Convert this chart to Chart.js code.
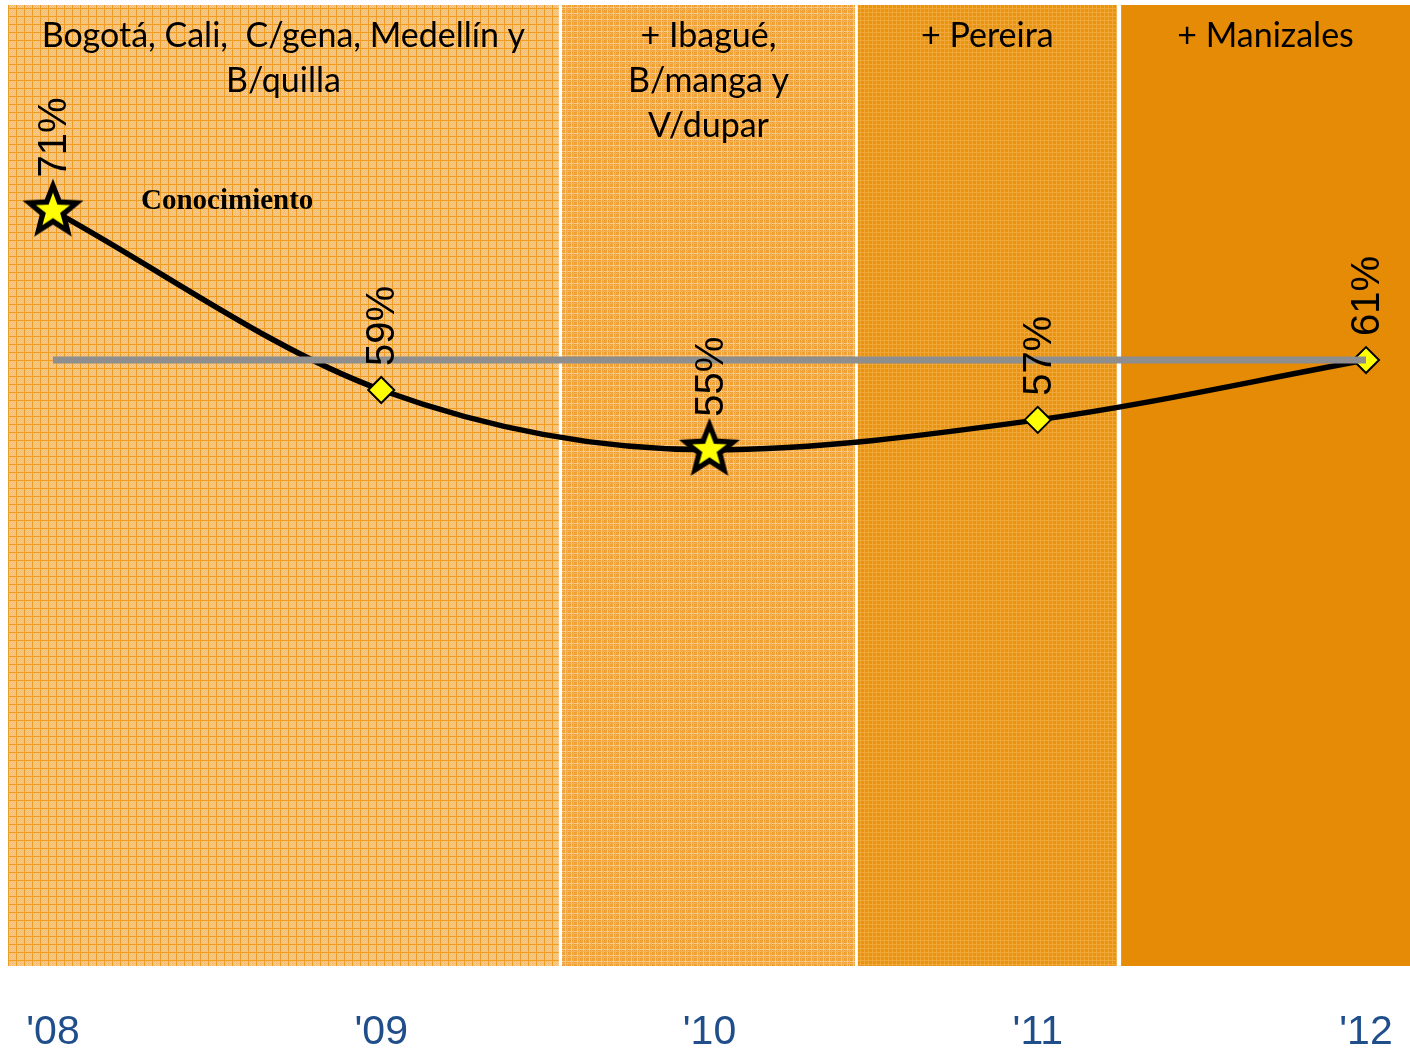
<!DOCTYPE html>
<html>
<head>
<meta charset="utf-8">
<script src="https://cdn.jsdelivr.net/npm/chart.js@4.4.1/dist/chart.umd.min.js"></script>
<style>
  html, body { margin: 0; padding: 0; background: #fff; }
</style>
</head>
<body>
<canvas id="grafico" width="1410" height="1048"></canvas>
<script>
// datos
const anios = ["'08", "'09", "'10", "'11", "'12"];
const conocimiento = [71, 59, 55, 57, 61];
const referencia = [61, 61, 61, 61, 61];
const marcadores = ['estrella', 'rombo', 'estrella', 'rombo', 'rombo'];
const titulosBandas = [
  ['Bogotá, Cali,  C/gena, Medellín y', 'B/quilla'],
  ['+ Ibagué,', 'B/manga y', 'V/dupar'],
  ['+ Pereira'],
  ['+ Manizales']
];
// inicio y fin de cada banda en unidades del eje x
const bandasInicio = [-0.137, 1.551, 2.452, 3.254];
const bandasFin = [1.541, 2.443, 3.241, 4.134];

// patrones de relleno de las bandas
const hacerPatron = (tam, dibujar) => {
  const c = document.createElement('canvas');
  c.width = tam; c.height = tam;
  dibujar(c.getContext('2d'), tam);
  return document.getElementById('grafico').getContext('2d').createPattern(c, 'repeat');
};

const patrones = [
  hacerPatron(8, (g, t) => {
    g.fillStyle = '#f5bb6a'; g.fillRect(0, 0, t, t);
    g.fillStyle = '#f8cd92';
    for (let y = 1; y < t; y++)
      for (let x = 1; x < t; x++)
        if ((x + y) % 2 === 0) g.fillRect(x, y, 1, 1);
    g.fillStyle = '#ee9c24';
    g.fillRect(0, 0, t, 1); g.fillRect(0, 0, 1, t);
  }),
  hacerPatron(6, (g, t) => {
    g.fillStyle = '#f0a133'; g.fillRect(0, 0, t, t);
    g.fillStyle = '#f8c98b';
    g.fillRect(0, 1, t, 1); g.fillRect(1, 0, 1, t);
    g.fillStyle = '#f4b15c';
    g.fillRect(0, 3, t, 1); g.fillRect(3, 0, 1, t);
  }),
  hacerPatron(4, (g, t) => {
    g.fillStyle = '#ea940e'; g.fillRect(0, 0, t, t);
    g.fillStyle = '#efa739';
    g.fillRect(0, 0, t, 1); g.fillRect(0, 0, 1, t);
  }),
  '#e58b06'
];

// marcador de estrella rellena
const hacerEstrella = () => {
  const c = document.createElement('canvas');
  const s = 70;
  c.width = s; c.height = s;
  const g = c.getContext('2d');
  const trazo = (R, r) => {
    g.beginPath();
    for (let i = 0; i < 10; i++) {
      const rad = i % 2 ? r : R;
      const a = -Math.PI / 2 + i * Math.PI / 5;
      g.lineTo(s / 2 + rad * Math.cos(a), s / 2 + rad * Math.sin(a));
    }
    g.closePath();
  };
  trazo(32, 14); g.fillStyle = '#000'; g.fill();
  trazo(18, 7.5); g.fillStyle = '#ffff00'; g.fill();
  return c;
};
const estrella = hacerEstrella();

const bandasPlugin = {
  id: 'bandas',
  beforeDatasetsDraw(chart) {
    const ctx = chart.ctx;
    const x = chart.scales.x;
    const area = chart.chartArea;
    ctx.save();
    bandasInicio.forEach((ini, i) => {
      const x0 = x.getPixelForValue(ini);
      const x1 = x.getPixelForValue(bandasFin[i]);
      ctx.fillStyle = patrones[i];
      ctx.fillRect(x0, area.top, x1 - x0, area.bottom - area.top);
    });
    ctx.fillStyle = '#000';
    ctx.textAlign = 'center';
    ctx.textBaseline = 'alphabetic';
    ctx.font = '34px Lato, "Open Sans", sans-serif';
    titulosBandas.forEach((lineas, i) => {
      const cx = (x.getPixelForValue(bandasInicio[i]) + x.getPixelForValue(bandasFin[i])) / 2;
      lineas.forEach((t, j) => ctx.fillText(t, cx, 47 + j * 45));
    });
    ctx.textAlign = 'left';
    ctx.font = 'bold 29px "Liberation Serif", "DejaVu Serif", serif';
    ctx.fillText('Conocimiento', 141, 209);
    ctx.restore();
  }
};

const etiquetasPlugin = {
  id: 'etiquetas',
  afterDatasetsDraw(chart) {
    const meta = chart.getDatasetMeta(1);
    const ctx = chart.ctx;
    ctx.save();
    ctx.font = '40px "Liberation Sans", Arial, sans-serif';
    ctx.fillStyle = '#000';
    ctx.textAlign = 'left';
    ctx.textBaseline = 'middle';
    meta.data.forEach((p, i) => {
      const sep = marcadores[i] === 'estrella' ? 33 : 24;
      ctx.save();
      ctx.translate(p.x, p.y - sep);
      ctx.rotate(-Math.PI / 2);
      ctx.fillText(conocimiento[i] + '%', 0, 2);
      ctx.restore();
    });
    ctx.restore();
  }
};

new Chart(document.getElementById('grafico'), {
  type: 'line',
  data: {
    datasets: [
      {
        label: 'Referencia',
        data: referencia.map((v, i) => ({ x: i, y: v })),
        borderColor: '#8e8e8e',
        borderWidth: 7,
        pointRadius: 0,
        tension: 0
      },
      {
        label: 'Conocimiento',
        data: conocimiento.map((v, i) => ({ x: i, y: v })),
        borderColor: '#000',
        borderWidth: 5.5,
        cubicInterpolationMode: 'monotone',
        pointStyle: marcadores.map(m => m === 'estrella' ? estrella : 'rectRot'),
        pointRadius: marcadores.map(m => m === 'estrella' ? 31 : 13),
        pointBackgroundColor: '#ffff00',
        pointBorderColor: '#000',
        pointBorderWidth: 2
      }
    ]
  },
  options: {
    responsive: false,
    animation: false,
    layout: { autoPadding: false, padding: { left: 8, top: 5, right: 0, bottom: 0 } },
    plugins: { legend: { display: false }, tooltip: { enabled: false } },
    scales: {
      x: {
        type: 'linear',
        min: -0.137,
        max: 4.134,
        grid: { display: false, drawTicks: false },
        border: { display: false },
        afterBuildTicks: s => { s.ticks = anios.map((_, i) => ({ value: i })); },
        afterFit: s => { s.height = 82; s.paddingLeft = 0; s.paddingRight = 0; },
        ticks: {
          autoSkip: false,
          maxRotation: 0,
          padding: 42,
          color: '#1f4e8a',
          font: { family: '"Liberation Sans", Arial, sans-serif', size: 41 },
          callback: v => anios[v]
        }
      },
      y: {
        display: false,
        min: 20.47,
        max: 84.75
      }
    }
  },
  plugins: [bandasPlugin, etiquetasPlugin]
});
</script>
</body>
</html>
